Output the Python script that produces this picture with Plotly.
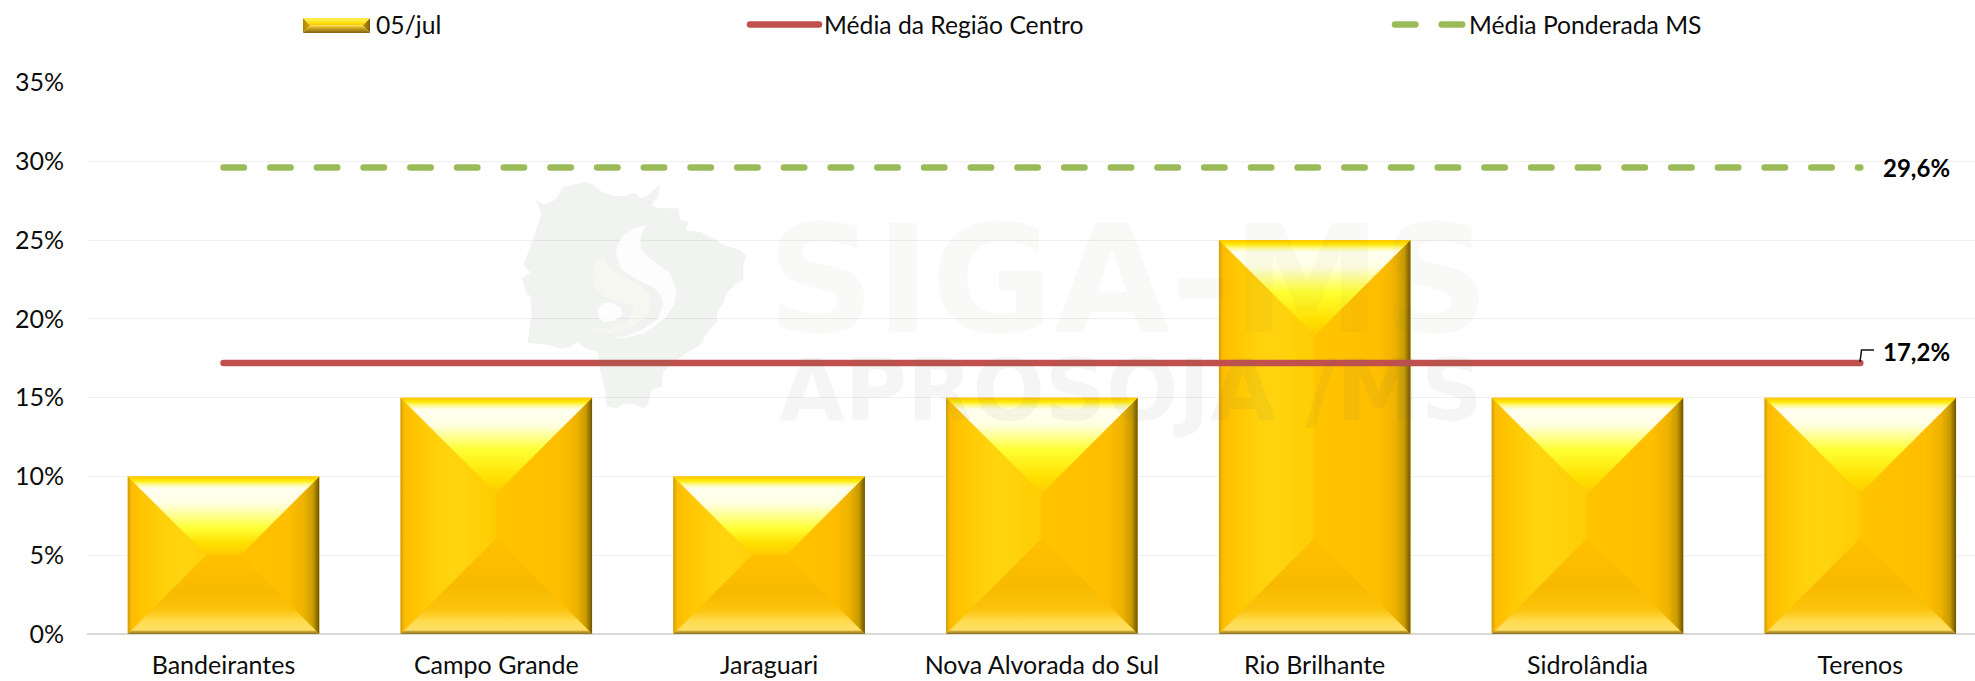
import plotly.graph_objects as go

# ---------- data ----------
categories = ["Bandeirantes", "Campo Grande", "Jaraguari", "Nova Alvorada do Sul",
              "Rio Brilhante", "Sidrolândia", "Terenos"]
values_0507 = [10, 15, 10, 15, 25, 15, 15]
media_centro = [17.2] * 7
media_ponderada = [29.6] * 7
bar_name = "05/jul"
centro_name = "Média da Região Centro"
ponderada_name = "Média Ponderada MS"
y_ticks = [0, 5, 10, 15, 20, 25, 30, 35]
y_tick_labels = ["0%", "5%", "10%", "15%", "20%", "25%", "30%", "35%"]

# ---------- layout geometry (pixels) ----------
W, H = 1975, 681
PX_CAT = 272.8
CENTER0 = 223.5
Y0_PX, Y35_PX = 634.0, 82.5
PX_PCT = (Y0_PX - Y35_PX) / 35
BAR_W = 0.702
PLOT_L = CENTER0 - PX_CAT / 2
FONT = "Lato"
TXT = "#0d0d0d"
RED = "#C0504D"
GREEN = "#9BBB59"
positions = list(range(len(categories)))


def mk(stops, depth=None):
    """stops: (position, colour); position in px when depth given, else in 0..1 from the start."""
    d = depth or 1
    out, last = [], -1
    for p, c in stops:
        f = min(max(p / d, 0), 1)
        if f <= last:
            f = min(last + 1e-4, 1)
        out.append([f, c])
        last = f
    out[0][0] = 0
    out[-1][0] = 1
    return out


def top_scale(depth):
    return mk([(0, "#FFC400"), (1.5, "#FFD000"), (4, "#FFE800"), (8, "#FFFA90"), (12, "#FFFFF0"),
               (27, "#FFFFE4"), (39, "#FFFF90"), (52, "#FFFF33"), (depth * 0.84, "#FFE000"),
               (depth, "#FFCB00")], depth)


def bottom_scale(depth):
    b = depth
    return mk([(0, "#FFC000"), (b * 0.5, "#F8BA00"), (b - 24, "#FBC30C"), (b - 13, "#FFDB4E"),
               (b - 4, "#FFE066"), (b - 2.5, "#C9A332"), (b, "#8A7022")], depth)


def left_scale(depth):
    return mk([(0, "#C09A20"), (1.5, "#E4AC00"), (4, "#FFBC00"), (14, "#FFC400"), (40, "#FFD20C"),
               (60, "#FFD40F"), (depth, "#FFCC00")], depth)


def right_scale(depth):
    return mk([(0, "#FFC400"), (depth - 32, "#FFBE00"), (depth - 15, "#EEB200"), (depth - 6, "#C89A00"),
               (depth - 2, "#8A6C00"), (depth, "#6E5600")], depth)


def facet(xs, ys, kind, start, stop, scale, xaxis="x", yaxis="y"):
    return go.Scatter(x=xs + xs[:1], y=ys + ys[:1], mode="none", fill="toself",
                      fillgradient=dict(type=kind, start=start, stop=stop, colorscale=scale),
                      hoverinfo="skip", showlegend=False, xaxis=xaxis, yaxis=yaxis)


fig = go.Figure()

# base bars, from the data
fig.add_trace(go.Bar(x=positions, y=values_0507, name=bar_name, width=BAR_W, showlegend=False,
                     marker=dict(color="#FFC000", line=dict(width=0))))

# bevel facets, derived from the bar values through axis units
half_w_px = BAR_W * PX_CAT / 2
for i, v in enumerate(values_0507):
    h_px = v * PX_PCT
    d_px = min(half_w_px, h_px / 2)
    dx, dy = d_px / PX_CAT, d_px / PX_PCT
    L, R, T, B = i - BAR_W / 2, i + BAR_W / 2, v, 0
    fig.add_trace(facet([L, L + dx, L + dx, L], [T, T - dy, B + dy, B], "horizontal", L, L + half_w_px / PX_CAT,
                        left_scale(half_w_px)))
    fig.add_trace(facet([R, R - dx, R - dx, R], [T, T - dy, B + dy, B], "horizontal", R - half_w_px / PX_CAT, R,
                        right_scale(half_w_px)))
    fig.add_trace(facet([L, R, R - dx, L + dx], [T, T, T - dy, T - dy], "vertical", T, T - dy, top_scale(d_px)))
    fig.add_trace(facet([L + dx, R - dx, R, L], [B + dy, B + dy, B, B], "vertical", B + dy, B, bottom_scale(d_px)))

# mean lines
fig.add_trace(go.Scatter(x=positions, y=media_centro, name=centro_name, mode="lines", legend="legend2",
                         line=dict(color=RED, width=6.5)))
fig.add_trace(go.Scatter(x=positions, y=media_ponderada, name=ponderada_name, mode="lines", legend="legend3",
                         line=dict(color=GREEN, width=6.5, dash="20.4px,26.3px")))

# legend entry for the bars; the bevelled swatch is drawn underneath it
fig.add_trace(go.Scatter(x=[None], y=[None], name=bar_name, mode="lines", legend="legend",
                         line=dict(color="rgba(0,0,0,0)", width=6)))
sL, sR, sT, sB = 303, 370, 18, 33
sd = (sB - sT) / 2
sw_v_top = mk([(0, "#F0B800"), (0.2, "#FFD800"), (0.75, "#FFF040"), (1, "#FFE860")])
sw_v_bot = mk([(0, "#FFE040"), (0.4, "#C8A020"), (1, "#806410")])
sw_left = mk([(0, "#B08400"), (1, "#E0AC00")])
sw_right = mk([(0, "#D0A000"), (1, "#7A6010")])
fig.add_trace(facet([sL, sL + sd, sL + sd, sL], [sT, sT + sd, sB - sd, sB], "horizontal", sL, sL + sd, sw_left, "x2", "y2"))
fig.add_trace(facet([sR, sR - sd, sR - sd, sR], [sT, sT + sd, sB - sd, sB], "horizontal", sR - sd, sR, sw_right, "x2", "y2"))
fig.add_trace(facet([sL, sR, sR - sd, sL + sd], [sT, sT, sT + sd, sT + sd], "vertical", sT + sd, sT, sw_v_top, "x2", "y2"))
fig.add_trace(facet([sL + sd, sR - sd, sR, sL], [sB - sd, sB - sd, sB, sB], "vertical", sB - sd, sB, sw_v_bot, "x2", "y2"))


# ---------- watermark ----------
def pxpath(points, ox, oy, scale=3.0):
    parts = []
    for k, (a, b) in enumerate(points):
        parts.append(f"{'M' if k == 0 else 'L'}{(ox + a / scale) / W:.5f},{1 - (oy + b / scale) / H:.5f}")
    return " ".join(parts) + " Z"


map_outline = [(75, 88), (100, 103), (135, 90), (160, 50), (190, 45), (225, 35), (250, 45), (275, 65), (310, 78),
               (345, 78), (375, 68), (390, 85), (415, 75), (450, 42), (445, 75), (425, 105), (445, 115), (505, 115),
               (512, 150), (535, 155), (527, 180), (570, 185), (610, 205), (640, 225), (690, 240), (708, 255),
               (700, 290), (700, 330), (680, 340), (650, 370), (640, 400), (622, 425), (620, 455), (590, 490),
               (570, 525), (530, 550), (480, 585), (460, 605), (455, 650), (425, 660), (415, 700), (400, 717),
               (380, 705), (345, 700), (320, 715), (290, 710), (285, 660), (270, 600), (262, 545), (225, 535),
               (200, 515), (185, 530), (150, 535), (110, 525), (52, 518), (65, 430), (62, 380), (50, 370), (35, 325),
               (62, 308), (40, 285), (70, 205), (95, 130)]
swirl = [(410, 165), (370, 175), (340, 195), (322, 225), (318, 255), (335, 300), (385, 330), (430, 352), (455, 380),
         (460, 405), (440, 450), (395, 480), (350, 497), (300, 505), (350, 503), (405, 488), (465, 445), (492, 405),
         (500, 365), (480, 310), (420, 265), (395, 240), (390, 215), (398, 185)]
flame = [(280, 260), (255, 280), (247, 310), (255, 350), (280, 380), (340, 395), (368, 410), (368, 435), (345, 462),
         (300, 478), (225, 468), (260, 483), (300, 490), (370, 470), (415, 430), (425, 385), (395, 347), (320, 310),
         (290, 285)]
blob = [(280, 398), (310, 400), (335, 418), (335, 438), (310, 453), (280, 455), (265, 440), (263, 418)]
MOX, MOY = 510, 170
shapes = [
    dict(type="path", xref="paper", yref="paper", layer="above", line=dict(width=0),
         fillcolor="rgba(100,120,100,0.09)", path=pxpath(map_outline, MOX, MOY)),
    dict(type="path", xref="paper", yref="paper", layer="above", line=dict(width=0),
         fillcolor="rgba(255,255,255,0.80)", path=pxpath(swirl, MOX, MOY)),
    dict(type="path", xref="paper", yref="paper", layer="above", line=dict(width=0),
         fillcolor="rgba(255,252,240,0.40)", path=pxpath(flame, MOX, MOY)),
    dict(type="path", xref="paper", yref="paper", layer="above", line=dict(width=0),
         fillcolor="rgba(255,255,255,0.80)", path=pxpath(blob, MOX, MOY)),
    # leader of the 17,2% label
    dict(type="path", xref="paper", yref="paper", layer="above", line=dict(width=1.5, color="#111111"),
         path=f"M{1860 / W:.5f},{1 - 362 / H:.5f} L{1861.5 / W:.5f},{1 - 350 / H:.5f} L{1874 / W:.5f},{1 - 350 / H:.5f}"),
]

annotations = [
    dict(text="SIGA-MS", xref="paper", yref="paper", x=1128 / W, y=1 - 280 / H, xanchor="center", yanchor="middle",
         showarrow=False, font=dict(family="DejaVu Sans", size=150, color="rgba(120,120,70,0.045)", weight="bold")),
    dict(text="APROSOJA /MS", xref="paper", yref="paper", x=1130 / W, y=1 - 390 / H, xanchor="center", yanchor="middle",
         showarrow=False, font=dict(family="DejaVu Sans", size=85, color="rgba(100,120,100,0.07)", weight="bold")),
    dict(text=f"{media_ponderada[-1]:.1f}%".replace(".", ","), x=6, y=media_ponderada[-1], xref="x", yref="y",
         xanchor="left", yanchor="middle", xshift=21, yshift=0, showarrow=False,
         font=dict(family=FONT, size=24, color="#000000", weight="bold")),
    dict(text=f"{media_centro[-1]:.1f}%".replace(".", ","), x=6, y=media_centro[-1], xref="x", yref="y",
         xanchor="left", yanchor="middle", xshift=21, yshift=11, showarrow=False,
         font=dict(family=FONT, size=24, color="#000000", weight="bold")),
]


def leg(x_px, itemw):
    return dict(x=x_px / W, y=1 - 25 / H, xanchor="left", yanchor="middle", orientation="h",
                bgcolor="rgba(0,0,0,0)", borderwidth=0, itemwidth=itemw,
                font=dict(family=FONT, size=24.7, color=TXT), itemclick=False, itemdoubleclick=False)


fig.update_layout(
    width=W, height=H, margin=dict(l=0, r=0, t=0, b=0, autoexpand=False),
    paper_bgcolor="white", plot_bgcolor="rgba(0,0,0,0)", barmode="overlay",
    font=dict(family=FONT, size=25, color=TXT),
    xaxis=dict(domain=[PLOT_L / W, 1], range=[-0.5, (W - CENTER0) / PX_CAT], tickmode="array",
               tickvals=positions, ticktext=categories, showgrid=False, zeroline=False, showline=False,
               ticks="", ticklabelstandoff=14, tickfont=dict(family=FONT, size=25, color=TXT), fixedrange=True),
    yaxis=dict(domain=[1 - Y0_PX / H, 1 - Y35_PX / H], range=[0, 35], tickmode="array", tickvals=y_ticks,
               ticktext=y_tick_labels, showgrid=True, gridcolor="#F0F0F0", gridwidth=1, zeroline=True,
               zerolinecolor="#D9D9D9", zerolinewidth=2, showline=False, ticks="", ticklabelstandoff=22,
               tickfont=dict(family=FONT, size=25, color=TXT), fixedrange=True),
    xaxis2=dict(domain=[0, 1], range=[0, W], visible=False, anchor="y2", fixedrange=True),
    yaxis2=dict(domain=[0, 1], range=[H, 0], visible=False, anchor="x2", fixedrange=True),
    legend=leg(300, 66), legend2=leg(745, 69), legend3=leg(1390, 69),
    shapes=shapes, annotations=annotations, hovermode=False,
)

fig.write_html("out.html", config={"displayModeBar": False},
               post_script="document.body.style.margin='0';document.body.style.overflow='hidden';"
                           "document.querySelectorAll('.js-line, .legendlines path')"
                           ".forEach(function(p){p.style.strokeLinecap='round';});")
